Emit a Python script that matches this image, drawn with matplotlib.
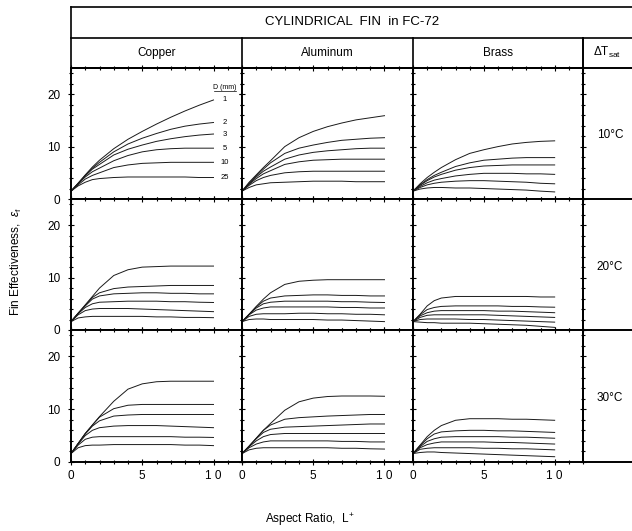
import matplotlib
matplotlib.use('Agg')
import matplotlib.pyplot as plt
from matplotlib.lines import Line2D
from matplotlib.ticker import MultipleLocator

plt.rcParams['font.family'] = ['Liberation Sans', 'DejaVu Sans']
plt.rcParams['mathtext.fontset'] = 'custom'
plt.rcParams['mathtext.rm'] = 'Liberation Sans'
plt.rcParams['mathtext.it'] = 'Liberation Sans:italic'

L = [0, 0.5, 1, 1.5, 2, 3, 4, 5, 6, 7, 8, 9, 10]
diameters = ['1', '2', '3', '5', '10', '25']
metals = ['Copper', 'Aluminum', 'Brass']
dt_labels = ['10°C', '20°C', '30°C']

# fin effectiveness, one row per diameter (1, 2, 3, 5, 10, 25 mm)
copper_10 = [
    [1.5, 3.0, 4.6, 6.1, 7.4, 9.6, 11.4, 12.9, 14.3, 15.6, 16.8, 17.9, 18.9],
    [1.5, 3.0, 4.5, 5.9, 7.0, 9.0, 10.5, 11.6, 12.5, 13.3, 13.9, 14.3, 14.6],
    [1.5, 3.0, 4.4, 5.7, 6.6, 8.4, 9.5, 10.3, 11.0, 11.5, 11.9, 12.2, 12.4],
    [1.5, 2.9, 4.2, 5.2, 5.9, 7.3, 8.3, 9.0, 9.4, 9.6, 9.7, 9.7, 9.7],
    [1.5, 2.7, 3.8, 4.5, 5.0, 6.0, 6.5, 6.8, 6.9, 7.0, 7.0, 7.0, 7.0],
    [1.5, 2.5, 3.2, 3.7, 3.9, 4.1, 4.2, 4.2, 4.2, 4.2, 4.2, 4.1, 4.1],
]
aluminum_10 = [
    [1.5, 3.2, 4.6, 6.0, 7.3, 10.0, 11.7, 12.9, 13.8, 14.5, 15.1, 15.5, 15.9],
    [1.5, 3.0, 4.4, 5.7, 6.9, 8.7, 9.7, 10.3, 10.8, 11.2, 11.4, 11.6, 11.7],
    [1.5, 2.9, 4.2, 5.3, 6.1, 7.6, 8.4, 8.9, 9.2, 9.4, 9.6, 9.7, 9.7],
    [1.5, 2.8, 3.9, 4.8, 5.4, 6.6, 7.1, 7.4, 7.5, 7.6, 7.6, 7.6, 7.6],
    [1.5, 2.6, 3.5, 4.1, 4.5, 5.0, 5.2, 5.3, 5.3, 5.3, 5.3, 5.3, 5.3],
    [1.5, 2.2, 2.7, 2.9, 3.1, 3.2, 3.3, 3.4, 3.4, 3.4, 3.3, 3.3, 3.3],
]
brass_10 = [
    [1.5, 2.9, 4.1, 5.1, 6.0, 7.5, 8.7, 9.4, 10.0, 10.5, 10.8, 11.0, 11.1],
    [1.5, 2.7, 3.7, 4.5, 5.1, 6.2, 6.9, 7.4, 7.6, 7.8, 7.9, 7.9, 7.9],
    [1.5, 2.6, 3.5, 4.2, 4.7, 5.5, 6.0, 6.3, 6.4, 6.5, 6.5, 6.5, 6.5],
    [1.5, 2.4, 3.1, 3.6, 3.9, 4.4, 4.7, 4.9, 4.9, 4.9, 4.8, 4.8, 4.7],
    [1.5, 2.2, 2.7, 3.0, 3.2, 3.4, 3.5, 3.5, 3.4, 3.3, 3.2, 3.0, 2.9],
    [1.5, 1.9, 2.1, 2.2, 2.2, 2.1, 2.1, 2.0, 1.9, 1.8, 1.7, 1.5, 1.35],
]
copper_20 = [
    [1.6, 3.2, 4.8, 6.4, 8.0, 10.4, 11.5, 12.0, 12.1, 12.2, 12.2, 12.2, 12.2],
    [1.6, 3.2, 4.7, 6.2, 7.1, 7.9, 8.2, 8.3, 8.4, 8.5, 8.5, 8.5, 8.5],
    [1.6, 3.2, 4.6, 5.9, 6.5, 6.9, 7.0, 7.1, 7.1, 7.0, 7.0, 6.9, 6.9],
    [1.6, 3.1, 4.3, 5.0, 5.3, 5.4, 5.5, 5.5, 5.5, 5.4, 5.4, 5.3, 5.25],
    [1.6, 2.9, 3.7, 4.0, 4.1, 4.1, 4.1, 4.0, 3.9, 3.8, 3.7, 3.6, 3.5],
    [1.6, 2.3, 2.5, 2.6, 2.6, 2.6, 2.6, 2.6, 2.5, 2.5, 2.4, 2.4, 2.35],
]
aluminum_20 = [
    [1.6, 3.0, 4.5, 5.9, 7.1, 8.7, 9.3, 9.5, 9.6, 9.6, 9.6, 9.6, 9.6],
    [1.6, 3.0, 4.4, 5.5, 6.1, 6.5, 6.6, 6.7, 6.7, 6.6, 6.6, 6.5, 6.5],
    [1.6, 3.0, 4.2, 5.0, 5.3, 5.5, 5.5, 5.5, 5.5, 5.4, 5.4, 5.3, 5.25],
    [1.6, 2.9, 3.8, 4.2, 4.4, 4.4, 4.4, 4.4, 4.4, 4.3, 4.3, 4.2, 4.2],
    [1.6, 2.6, 3.0, 3.1, 3.1, 3.1, 3.2, 3.2, 3.1, 3.1, 3.0, 3.0, 2.9],
    [1.6, 2.0, 2.1, 2.1, 2.0, 2.0, 2.0, 2.0, 1.9, 1.9, 1.8, 1.7, 1.6],
]
brass_20 = [
    [1.6, 3.0, 4.6, 5.6, 6.1, 6.4, 6.4, 6.4, 6.4, 6.4, 6.4, 6.3, 6.3],
    [1.6, 2.9, 3.9, 4.3, 4.5, 4.6, 4.6, 4.6, 4.6, 4.5, 4.5, 4.4, 4.35],
    [1.6, 2.7, 3.3, 3.6, 3.7, 3.7, 3.7, 3.7, 3.6, 3.6, 3.5, 3.4, 3.3],
    [1.6, 2.4, 2.8, 2.9, 2.9, 2.9, 2.9, 2.9, 2.8, 2.7, 2.6, 2.5, 2.4],
    [1.6, 2.0, 2.1, 2.1, 2.1, 2.1, 2.0, 2.0, 1.9, 1.8, 1.7, 1.6, 1.5],
    [1.6, 1.5, 1.4, 1.4, 1.3, 1.3, 1.3, 1.2, 1.1, 1.0, 0.9, 0.7, 0.5],
]
copper_30 = [
    [1.6, 3.5, 5.4, 7.0, 8.6, 11.5, 13.8, 14.8, 15.2, 15.3, 15.3, 15.3, 15.3],
    [1.6, 3.5, 5.4, 7.0, 8.5, 10.1, 10.75, 10.9, 10.9, 10.9, 10.9, 10.9, 10.9],
    [1.6, 3.5, 5.3, 6.8, 7.8, 8.7, 8.9, 9.0, 9.0, 9.0, 9.0, 9.0, 9.0],
    [1.6, 3.4, 5.0, 6.0, 6.5, 6.8, 6.9, 6.9, 6.9, 6.8, 6.7, 6.6, 6.5],
    [1.6, 3.2, 4.3, 4.7, 4.8, 4.8, 4.8, 4.8, 4.8, 4.8, 4.7, 4.7, 4.65],
    [1.6, 2.7, 3.1, 3.2, 3.2, 3.3, 3.3, 3.3, 3.3, 3.3, 3.2, 3.2, 3.1],
]
aluminum_30 = [
    [1.6, 3.0, 4.5, 6.0, 7.3, 9.8, 11.4, 12.1, 12.4, 12.5, 12.5, 12.5, 12.45],
    [1.6, 3.0, 4.5, 6.0, 7.0, 8.1, 8.4, 8.55, 8.7, 8.8, 8.9, 9.0, 9.0],
    [1.6, 3.0, 4.4, 5.6, 6.2, 6.6, 6.7, 6.8, 6.9, 7.0, 7.1, 7.2, 7.2],
    [1.6, 2.9, 4.0, 4.8, 5.2, 5.4, 5.4, 5.4, 5.4, 5.4, 5.4, 5.4, 5.4],
    [1.6, 2.7, 3.4, 3.8, 4.0, 4.0, 4.0, 4.0, 4.0, 3.9, 3.9, 3.8, 3.8],
    [1.6, 2.3, 2.6, 2.7, 2.7, 2.7, 2.7, 2.7, 2.7, 2.6, 2.6, 2.5, 2.45],
]
brass_30 = [
    [1.6, 3.2, 4.8, 6.0, 6.9, 7.9, 8.2, 8.2, 8.2, 8.1, 8.1, 8.0, 7.9],
    [1.6, 3.1, 4.4, 5.3, 5.7, 5.9, 6.0, 6.0, 5.9, 5.9, 5.8, 5.7, 5.6],
    [1.6, 2.9, 3.9, 4.4, 4.7, 4.8, 4.8, 4.8, 4.8, 4.7, 4.7, 4.6, 4.5],
    [1.6, 2.7, 3.3, 3.6, 3.8, 3.8, 3.8, 3.8, 3.7, 3.7, 3.6, 3.5, 3.4],
    [1.6, 2.4, 2.6, 2.7, 2.7, 2.7, 2.7, 2.6, 2.6, 2.5, 2.5, 2.4, 2.3],
    [1.6, 1.8, 1.9, 1.9, 1.8, 1.7, 1.6, 1.5, 1.4, 1.3, 1.2, 1.1, 1.0],
]

grid = [
    [copper_10, aluminum_10, brass_10],
    [copper_20, aluminum_20, brass_20],
    [copper_30, aluminum_30, brass_30],
]

W, H = 632, 531
fig = plt.figure(figsize=(W / 100, H / 100), dpi=100)


def fx(px):
    return px / W


def fy(py):
    return 1 - py / H


def hline(y, x0, x1, lw=1.2):
    fig.add_artist(Line2D([fx(x0), fx(x1)], [fy(y), fy(y)], color='k', lw=lw, transform=fig.transFigure))


def vline(x, y0, y1, lw=1.2):
    fig.add_artist(Line2D([fx(x), fx(x)], [fy(y0), fy(y1)], color='k', lw=lw, transform=fig.transFigure))


col_edges = [71, 242, 413, 583]
row_edges = [68, 199, 330, 462]

for r in range(3):
    for c in range(3):
        x0, x1 = col_edges[c], col_edges[c + 1]
        y0, y1 = row_edges[r], row_edges[r + 1]
        ax = fig.add_axes([fx(x0), fy(y1), (x1 - x0) / W, (y1 - y0) / H])
        for curve in grid[r][c]:
            ax.plot(L, curve, color='#1a1a1a', lw=0.7)
        ax.set_xlim(0, 12)
        ax.set_ylim(0, 25)
        ax.set_xticks([0, 5, 10])
        ax.set_yticks([0, 10, 20])
        ax.xaxis.set_minor_locator(MultipleLocator(1))
        ax.yaxis.set_minor_locator(MultipleLocator(2))
        ax.tick_params(which='both', direction='inout', top=True, right=True, width=0.8,
                       labelsize=8.5, labelleft=(c == 0), labelbottom=(r == 2))
        ax.tick_params(which='major', length=5, pad=3)
        ax.tick_params(which='minor', length=3)
        ax.tick_params(axis='y', pad=5)
        for s in ax.spines.values():
            s.set_linewidth(1.4)
        ax.set_xticklabels(['0', '5', '1 0'] if r == 2 else [])

        # diameter labels on the first panel
        if r == 0 and c == 0:
            for d, curve in zip(diameters, grid[r][c]):
                ax.text(10.8, curve[-1], d, fontsize=5.5, ha='center', va='center')
            ax.text(10.8, 21.2, 'D (mm)', fontsize=5, ha='center', va='center')
            ax.plot([10.05, 11.55], [20.6, 20.6], color='k', lw=0.5)

# frame and header boxes
hline(7, 71, 632)
hline(38, 71, 632)
hline(68, 71, 632, lw=1.4)
for y in row_edges[1:]:
    hline(y, 583, 632, lw=1.4)
vline(71, 7, 68)
vline(242, 38, 68)
vline(413, 38, 68)
vline(583, 38, 462, lw=1.4)

fig.text(fx(352), fy(22), 'CYLINDRICAL  FIN  in FC-72', ha='center', va='center', fontsize=9.5)
for c, m in enumerate(metals):
    fig.text(fx((col_edges[c] + col_edges[c + 1]) / 2), fy(53), m, ha='center', va='center', fontsize=8.5)
fig.text(fx(607), fy(52), r'$\Delta\mathrm{T}_{\mathrm{sat}}$', ha='center', va='center', fontsize=8.5)
for r, t in enumerate(dt_labels):
    fig.text(fx(610), fy((row_edges[r] + row_edges[r + 1]) / 2 + 2), t, ha='center', va='center', fontsize=8.5)

fig.text(fx(16), fy(262), r'Fin Effectiveness,  $\varepsilon_{\mathrm{f}}$', rotation=90,
         ha='center', va='center', fontsize=8.5)
fig.text(fx(310), fy(520), r'Aspect Ratio,  L$^{+}$', ha='center', va='center', fontsize=8.5)

fig.savefig('out.png', dpi=100)
